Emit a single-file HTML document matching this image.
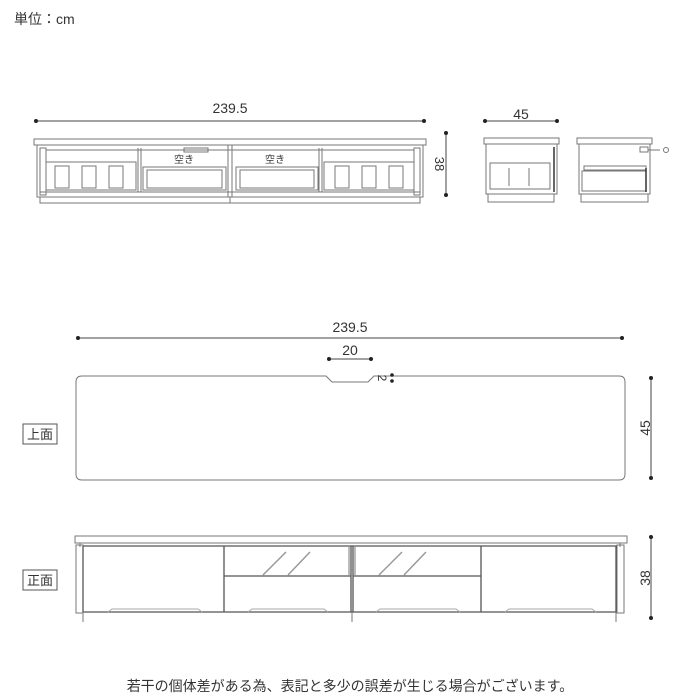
<!DOCTYPE html>
<html><head><meta charset="utf-8"><style>
html,body{margin:0;padding:0;background:#fff;}
svg{display:block;}
text{font-family:"Liberation Sans","Noto Sans CJK JP",sans-serif;fill:#333;}
</style></head><body>
<svg width="700" height="700" viewBox="0 0 700 700" xmlns="http://www.w3.org/2000/svg">
<g fill="none" stroke="#777" stroke-width="1">
<text x="14" y="24" font-size="14" stroke="none">単位：cm</text>

<!-- top front view -->
<line x1="36" y1="121" x2="424" y2="121" stroke="#444"/>
<circle cx="36" cy="121" r="2" fill="#222" stroke="none"/><circle cx="424" cy="121" r="2" fill="#222" stroke="none"/>
<text x="230" y="113" font-size="14" text-anchor="middle" stroke="none">239.5</text>
<rect x="34" y="139" width="392" height="6"/>
<rect x="37" y="145" width="386" height="52"/>
<rect x="40" y="148" width="6" height="47"/><rect x="414" y="148" width="6" height="47"/>
<line x1="46" y1="150" x2="414" y2="150"/>
<line x1="138" y1="148" x2="138" y2="192"/><line x1="141" y1="148" x2="141" y2="192"/>
<line x1="228" y1="145" x2="228" y2="197"/><line x1="232" y1="145" x2="232" y2="197"/>
<line x1="319" y1="148" x2="319" y2="192"/><line x1="322" y1="148" x2="322" y2="192"/>
<rect x="46" y="162" width="90" height="28"/><rect x="324" y="162" width="90" height="28"/>
<rect x="55" y="166" width="14" height="22"/><rect x="82" y="166" width="14" height="22"/><rect x="109" y="166" width="14" height="22"/>
<rect x="335" y="166" width="14" height="22"/><rect x="362" y="166" width="14" height="22"/><rect x="389" y="166" width="14" height="22"/>
<rect x="143" y="167" width="83" height="23"/><rect x="236" y="167" width="82" height="23"/>
<rect x="147" y="170" width="75" height="18"/><rect x="240" y="170" width="74" height="18"/>
<rect x="184" y="148" width="24" height="4"/>
<text x="184" y="163" font-size="10" stroke="none" text-anchor="middle">空き</text>
<text x="275" y="163" font-size="10" stroke="none" text-anchor="middle">空き</text>
<line x1="40" y1="192" x2="420" y2="192"/>
<rect x="40" y="197" width="380" height="6"/><line x1="230" y1="197" x2="230" y2="203"/>
<line x1="446" y1="133" x2="446" y2="195" stroke="#444"/>
<circle cx="446" cy="133" r="2" fill="#222" stroke="none"/><circle cx="446" cy="195" r="2" fill="#222" stroke="none"/>
<text transform="translate(435,164) rotate(90)" font-size="13" text-anchor="middle" stroke="none">38</text>

<!-- side views -->
<line x1="485" y1="121" x2="557" y2="121" stroke="#444"/>
<circle cx="485" cy="121" r="2" fill="#222" stroke="none"/><circle cx="557" cy="121" r="2" fill="#222" stroke="none"/>
<text x="521" y="119" font-size="14" text-anchor="middle" stroke="none">45</text>
<rect x="484" y="138" width="75" height="6"/><rect x="486" y="144" width="71" height="50"/>
<rect x="490" y="163" width="60" height="26"/><line x1="509" y1="168" x2="509" y2="186"/><line x1="529" y1="168" x2="529" y2="186"/>
<line x1="554" y1="147" x2="554" y2="192" stroke="#333" stroke-width="1.5"/>
<rect x="488" y="194" width="66" height="8"/>
<rect x="577" y="138" width="75" height="6"/><rect x="579" y="144" width="71" height="50"/>
<rect x="584" y="166" width="62" height="4"/><rect x="582" y="171" width="64" height="20"/>
<line x1="646" y1="168" x2="646" y2="192" stroke="#333" stroke-width="1.5"/>
<rect x="640" y="147" width="8" height="5"/><line x1="648" y1="150" x2="660" y2="150"/><circle cx="666" cy="150" r="2.5"/>
<rect x="581" y="194" width="67" height="8"/>

<!-- top view -->
<line x1="78" y1="338" x2="622" y2="338" stroke="#444"/>
<circle cx="78" cy="338" r="2" fill="#222" stroke="none"/><circle cx="622" cy="338" r="2" fill="#222" stroke="none"/>
<text x="350" y="332" font-size="14" text-anchor="middle" stroke="none">239.5</text>
<line x1="329" y1="359" x2="371" y2="359" stroke="#444"/>
<circle cx="329" cy="359" r="2" fill="#222" stroke="none"/><circle cx="371" cy="359" r="2" fill="#222" stroke="none"/>
<text x="350" y="355" font-size="14" text-anchor="middle" stroke="none">20</text>
<path d="M82 376 H326 L332 382 H368 L374 376 H619 Q625 376 625 382 V474 Q625 480 619 480 H82 Q76 480 76 474 V382 Q76 376 82 376 Z"/>
<text transform="translate(378,378) rotate(90)" font-size="12" text-anchor="middle" stroke="none">2</text>
<circle cx="392" cy="375" r="1.8" fill="#222" stroke="none"/><circle cx="392" cy="381" r="1.8" fill="#222" stroke="none"/>
<line x1="651" y1="378" x2="651" y2="478" stroke="#444"/>
<circle cx="651" cy="378" r="2" fill="#222" stroke="none"/><circle cx="651" cy="478" r="2" fill="#222" stroke="none"/>
<text transform="translate(650,428) rotate(-90)" font-size="14" text-anchor="middle" stroke="none">45</text>
<rect x="23" y="424" width="34" height="20" stroke="#555"/>
<text x="40" y="439" font-size="13" text-anchor="middle" stroke="none">上面</text>

<!-- front view -->
<rect x="75" y="536" width="552" height="7"/>
<rect x="76" y="545" width="7" height="68"/><rect x="617" y="545" width="7" height="68"/>
<line x1="80" y1="543" x2="80" y2="547"/><line x1="620" y1="543" x2="620" y2="547"/>
<g stroke="#555" stroke-width="1.3">
<line x1="83" y1="546" x2="617" y2="546"/>
<line x1="83" y1="546" x2="83" y2="612"/><line x1="616" y1="546" x2="616" y2="612"/>
<line x1="224" y1="546" x2="224" y2="612"/>
<line x1="351" y1="546" x2="351" y2="612"/><line x1="353" y1="546" x2="353" y2="612"/>
<line x1="481" y1="546" x2="481" y2="612"/>
<line x1="224" y1="576" x2="351" y2="576"/><line x1="353" y1="576" x2="481" y2="576"/>
<line x1="83" y1="612" x2="616" y2="612"/>
</g>
<line x1="349" y1="547" x2="349" y2="575"/><line x1="355" y1="547" x2="355" y2="575"/>
<g stroke="#999" stroke-width="1.5">
<line x1="263" y1="575" x2="286" y2="552"/><line x1="288" y1="575" x2="310" y2="552"/>
<line x1="379" y1="575" x2="402" y2="552"/><line x1="404" y1="575" x2="426" y2="552"/>
</g>
<g stroke="#aaa"><path d="M108 612 L112 609 H198 L202 612"/><path d="M248 612 L252 609 H324 L328 612"/><path d="M376 612 L380 609 H456 L460 612"/><path d="M505 612 L509 609 H592 L596 612"/></g>
<line x1="83" y1="612" x2="83" y2="622"/><line x1="352" y1="612" x2="352" y2="622"/><line x1="616" y1="612" x2="616" y2="622"/>
<line x1="651" y1="537" x2="651" y2="618" stroke="#444"/>
<circle cx="651" cy="537" r="2" fill="#222" stroke="none"/><circle cx="651" cy="618" r="2" fill="#222" stroke="none"/>
<text transform="translate(650,578) rotate(-90)" font-size="14" text-anchor="middle" stroke="none">38</text>
<rect x="23" y="570" width="34" height="20" stroke="#555"/>
<text x="40" y="585" font-size="13" text-anchor="middle" stroke="none">正面</text>

<text x="350" y="691" font-size="14" text-anchor="middle" stroke="none">若干の個体差がある為、表記と多少の誤差が生じる場合がございます。</text>
</g>
</svg>
</body></html>
